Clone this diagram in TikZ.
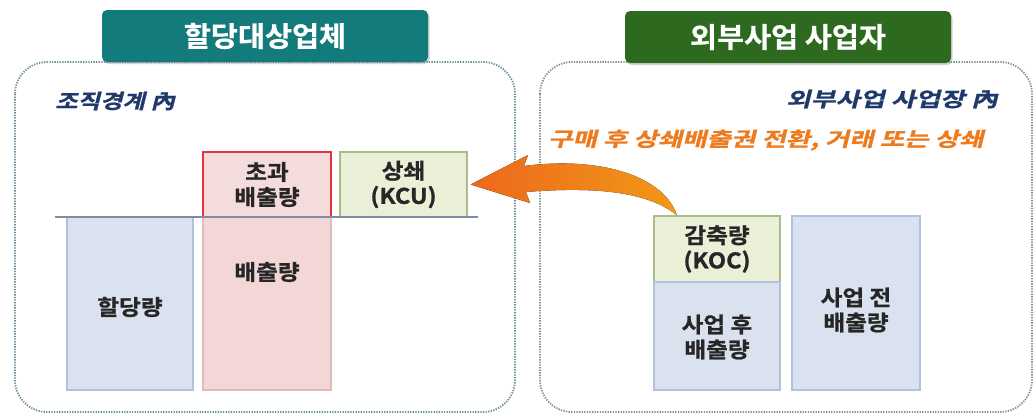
\documentclass[tikz,border=0pt]{standalone}
\usepackage{fontspec}
\usetikzlibrary{shadows}
\newfontfamily\krtab{Noto Sans CJK KR Bold}[FakeStretch=1.05, FakeBold=0.6]
\newfontfamily\krb{Noto Sans CJK KR Bold}[FakeStretch=1.1, FakeBold=1]
\newfontfamily\krit{Noto Sans CJK KR Bold}[FakeSlant=0.25, FakeStretch=1.22, FakeBold=1]
\newfontfamily\krito{Noto Sans CJK KR Bold}[FakeSlant=0.25, FakeStretch=1.34, FakeBold=1]
\definecolor{tealtab}{HTML}{137B7C}
\definecolor{greentab}{HTML}{2D6A1F}
\definecolor{cborder}{HTML}{6F8E9C}
\definecolor{gborder}{HTML}{7D977F}
\definecolor{bluefill}{HTML}{DAE2F0}
\definecolor{blueline}{HTML}{B3C1DA}
\definecolor{redfill}{HTML}{F3D6D6}
\definecolor{redline}{HTML}{E6B9B9}
\definecolor{redframe}{HTML}{E3343F}
\definecolor{greenfill}{HTML}{EAF0D8}
\definecolor{greenline}{HTML}{A9BE86}
\definecolor{navytext}{HTML}{1F3A6A}
\definecolor{orangetext}{HTML}{EE7A1E}
\definecolor{labeltext}{HTML}{262626}
\definecolor{baseline}{HTML}{7D8CA0}
\begin{document}
\begin{tikzpicture}[x=1pt,y=-1pt,
  container/.style={draw=#1, line width=1.8pt, dash pattern=on 1.3pt off 1.3pt, rounded corners=32pt, fill=white},
  tab/.style={fill=#1, rounded corners=5pt, minimum width=326pt, minimum height=52pt, inner sep=0pt,
    text=white, font=\krtab\fontsize{28}{30}\selectfont, drop shadow={opacity=0.35, shadow xshift=1.5pt, shadow yshift=-2pt}},
  bar/.style={draw=#1, line width=1.2pt, inner sep=0pt},
  lbl/.style={text=labeltext, font=\krb\fontsize{21.5}{25}\selectfont, align=center, inner sep=0pt},
  note/.style={font=\krit\fontsize{20}{22}\selectfont, inner sep=0pt}
]
\useasboundingbox (0,0) rectangle (1035,415);
% containers
\draw[container=cborder] (15,62) rectangle (515,412);
\draw[container=gborder] (540,62) rectangle (1032,412);
% tabs
\node[tab=tealtab] (lefttab) at (265,36) {할당대상업체};
\node[tab=greentab] (righttab) at (788,37) {외부사업 사업자};
% notes
\node[note, text=navytext, anchor=west] (orgb) at (55,101) {조직경계 內};
\node[note, text=navytext, anchor=east, font=\krito\fontsize{20}{22}\selectfont] (extb) at (998,99) {외부사업 사업장 內};
\node[note, text=orangetext, anchor=west, font=\krito\fontsize{19.8}{22}\selectfont] (buy) at (548,140) {구매 후 상쇄배출권 전환, 거래 또는 상쇄};
% left bars
\coordinate (bl) at (55,217);
\coordinate (br) at (478,217);
\node[bar=blueline, fill=bluefill, minimum width=126pt, minimum height=173pt] (alloc) at (130,303.5) {};
\node[lbl] (alloct) at (130,307) {할당량};
\node[bar=redline, fill=redfill, minimum width=128pt, minimum height=173pt] (emis) at (267,303.5) {};
\node[lbl] (emist) at (267,272) {배출량};
\node[draw=redframe, line width=2pt, fill=redfill!85!white, minimum width=128pt, minimum height=65pt, inner sep=0pt, lbl, text=labeltext] (excess) at (267,184.5) {초과\\배출량};
\node[bar=greenline, fill=greenfill, minimum width=127pt, minimum height=65pt] (kcu) at (403.5,184.5) {};
\node[lbl] (kcut) at (403.5,184.5) {상쇄\\(KCU)};
\draw[line width=1.3pt, draw=baseline] (bl) -- (br);
% right bars
\node[bar=greenline, fill=greenfill, minimum width=126pt, minimum height=66pt] (koc) at (717,249) {};
\node[lbl] (koct) at (717,249) {감축량\\(KOC)};
\node[bar=blueline, fill=bluefill, minimum width=126pt, minimum height=108pt] (after) at (717,336) {};
\node[lbl] (aftert) at (717,337) {사업 후\\배출량};
\node[bar=blueline, fill=bluefill, minimum width=128pt, minimum height=174pt] (before) at (856,303) {};
\node[lbl] (beforet) at (856,310) {사업 전\\배출량};
% arrow from KOC to KCU
\coordinate (tip) at ([xshift=3pt]kcu.east);
\coordinate (tail) at ([xshift=-40pt]koc.north);
\fill[left color={rgb,255:red,236;green,104;blue,28}, right color={rgb,255:red,242;green,152;blue,24}]
  (tip) -- (528,155) -- (524,166) .. controls (600,156) and (664,176) .. (tail)
  .. controls (650,193) and (600,186) .. (526,192) -- (530,203) -- cycle;
\end{tikzpicture}
\end{document}
